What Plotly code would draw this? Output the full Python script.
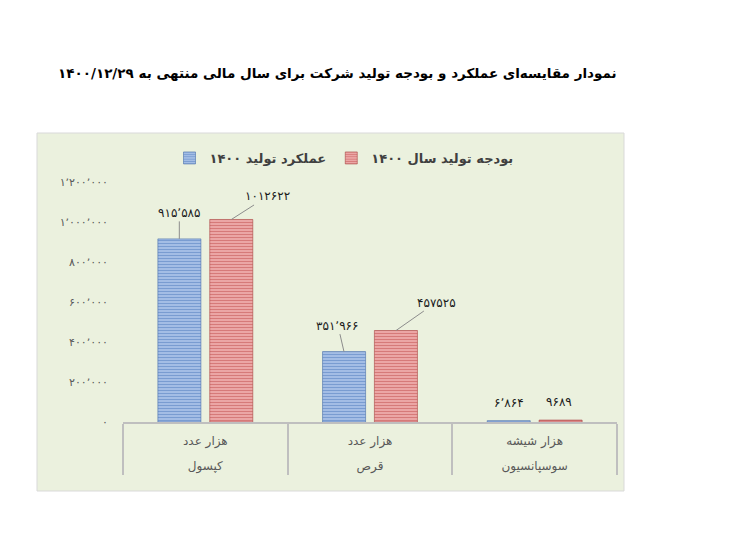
import plotly.graph_objects as go

# data
products = ["کپسول", "قرص", "سوسپانسیون"]
units = ["هزار عدد", "هزار عدد", "هزار شیشه"]
actual_1400 = [915585, 351966, 6864]
budget_1400 = [1012622, 457525, 9689]
actual_labels = ["۹۱۵٬۵۸۵", "۳۵۱٬۹۶۶", "۶٬۸۶۴"]
budget_labels = ["۱۰۱۲۶۲۲", "۴۵۷۵۲۵", "۹۶۸۹"]
ytick_vals = [0, 200000, 400000, 600000, 800000, 1000000, 1200000]
ytick_text = ["۰", "۲۰۰٬۰۰۰", "۴۰۰٬۰۰۰", "۶۰۰٬۰۰۰", "۸۰۰٬۰۰۰", "۱٬۰۰۰٬۰۰۰", "۱٬۲۰۰٬۰۰۰"]

title = "نمودار مقایسه‌ای عملکرد و بودجه تولید شرکت برای سال مالی منتهی به ۱۴۰۰/۱۲/۲۹"
name_actual = "عملکرد تولید ۱۴۰۰"
name_budget = "بودجه تولید سال ۱۴۰۰"

FONT = "DejaVu Sans"
BG = "#EBF1DE"

# inner row gets an empty second line so the outer row sits lower, as in the original
x = [products, [u + "<br>&nbsp;" for u in units]]

fig = go.Figure()
fig.add_trace(go.Bar(
    x=x, y=actual_1400, name=name_actual,
    marker=dict(color="#7F9FD0", line=dict(width=0.6, color="#4A71AC"),
                pattern=dict(shape="-", fgcolor="#4270B6", bgcolor="#B0C8EC",
                             size=3, solidity=0.5)),
))
fig.add_trace(go.Bar(
    x=x, y=budget_1400, name=name_budget,
    marker=dict(color="#D98886", line=dict(width=0.6, color="#A94543"),
                pattern=dict(shape="-", fgcolor="#BA403D", bgcolor="#F2B5B4",
                             size=3, solidity=0.5)),
))

# hidden numeric axis over the categories, for placing the value labels
fig.add_trace(go.Scatter(x=[0], y=[0], xaxis="x2", mode="markers",
                         marker=dict(opacity=0), showlegend=False, hoverinfo="skip"))

# page offset of the figure (body margin)
O = 8
W, H = 729, 533
pl, pr, pt, pb = 123 - O, 112 + O, 182 - O, 111 + O
pw, ph = W - pl - pr, H - pt - pb
def px(xp):
    return (xp - O - pl) / pw
def py(yp):
    return (H - pb - (yp - O)) / ph

off = 0.158
# label offsets (px) for each bar: (ax, ay, leader line?)
actual_pos = [(0, -26, True), (-6, -26, True), (0, -18, False)]
budget_pos = [(36, -23, True), (40, -28, True), (-2, -18, False)]

annotations = []
for i in range(3):
    for val, lab, pos, dx in [(actual_1400[i], actual_labels[i], actual_pos[i], -off),
                              (budget_1400[i], budget_labels[i], budget_pos[i], off)]:
        ax, ay, line = pos
        a = dict(x=i + dx, y=val, xref="x2", yref="y", text=lab,
                 font=dict(family=FONT, size=12, color="#1a1a1a"))
        if line:
            a.update(showarrow=True, arrowhead=0, arrowwidth=1, arrowcolor="#8c8c8c",
                     ax=ax, ay=ay, standoff=0)
        else:
            a.update(showarrow=False, xshift=ax, yshift=-ay)
        annotations.append(a)

annotations.append(dict(
    text="<b>" + title + "</b>", x=px(337), y=py(73), xref="paper", yref="paper",
    xanchor="center", yanchor="middle", showarrow=False,
    font=dict(family=FONT, size=13.5, color="#000000"),
))

fig.update_layout(
    width=W, height=H,
    margin=dict(l=pl, r=pr, t=pt, b=pb),
    paper_bgcolor="white",
    plot_bgcolor="rgba(0,0,0,0)",
    barmode="group", bargap=0.37, bargroupgap=0.17,
    font=dict(family=FONT, color="#595959"),
    legend=dict(orientation="h", x=px(344), y=py(158), xanchor="center", yanchor="middle",
                font=dict(family=FONT, size=13, color="#404040", weight="bold"),
                traceorder="normal", bgcolor="rgba(0,0,0,0)", itemwidth=30),
    annotations=annotations,
    shapes=[dict(type="rect", xref="paper", yref="paper", layer="below",
                 x0=px(37), x1=px(624), y0=py(491), y1=py(133),
                 fillcolor=BG, line=dict(color="#D9D9D9", width=1))],
    xaxis=dict(type="multicategory", showline=True, linecolor="#BFBFBF", linewidth=2,
               showdividers=True, dividercolor="#BFBFBF", dividerwidth=2,
               tickfont=dict(family=FONT, size=12, color="#595959"),
               ticklabelstandoff=7,
               showgrid=False, ticks=""),
    xaxis2=dict(overlaying="x", range=[-0.5, 2.5], visible=False, anchor="y"),
    yaxis=dict(range=[0, 1200000], tickvals=ytick_vals, ticktext=ytick_text,
               showgrid=False, zeroline=False, showline=False, ticks="",
               ticklabelstandoff=14,
               tickfont=dict(family=FONT, size=11, color="#595959")),
)

fig.write_html("out.html")
